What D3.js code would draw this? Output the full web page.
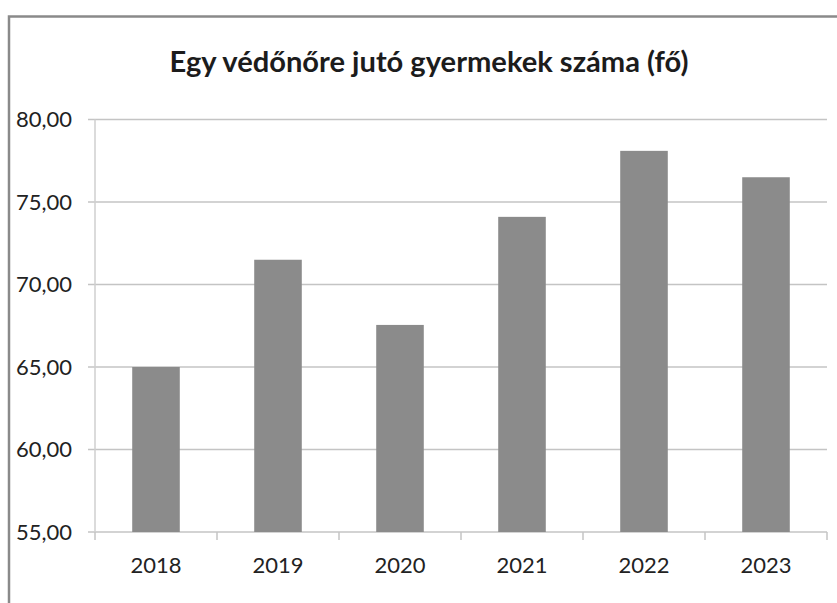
<!DOCTYPE html>
<html>
<head>
<meta charset="utf-8">
<script src="https://cdn.jsdelivr.net/npm/d3@7"></script>
<style>
  body { margin: 0; background: #fff; }
  text { font-family: Lato, "Open Sans", sans-serif; fill: #222; }
</style>
</head>
<body>
<svg class="chart"></svg>
<script>
var width = 837;
var height = 603;

var years = ["2018", "2019", "2020", "2021", "2022", "2023"];
var values = [65.0, 71.5, 67.55, 74.1, 78.1, 76.5];
var yTicks = [55, 60, 65, 70, 75, 80];
var title = "Egy védőnőre jutó gyermekek száma (fő)";

var plotLeft = 95, plotRight = 827, plotTop = 119.5, plotBottom = 532;

var x = d3.scaleBand()
          .domain(years)
          .range([plotLeft, plotRight]);

var y = d3.scaleLinear()
          .domain([55, 80])
          .range([plotBottom, plotTop]);

var chart = d3.select(".chart")
              .attr("width", width)
              .attr("height", height);

chart.append("rect")
     .attr("width", width)
     .attr("height", height)
     .attr("fill", "#fff");

// scanned frame (left + top edges only)
chart.append("path")
     .attr("d", "M9,603 V16.5 H837")
     .attr("fill", "none")
     .attr("stroke", "#8a8a8a")
     .attr("stroke-width", 2.5);

// gridlines
chart.append("g")
     .selectAll("line")
     .data(yTicks)
     .enter().append("line")
     .attr("x1", plotLeft - 7)
     .attr("x2", plotRight)
     .attr("y1", function(d) { return y(d); })
     .attr("y2", function(d) { return y(d); })
     .attr("stroke", "#c4c4c4")
     .attr("stroke-width", 1.5);

// y axis line
chart.append("line")
     .attr("x1", plotLeft).attr("x2", plotLeft)
     .attr("y1", plotTop).attr("y2", plotBottom)
     .attr("stroke", "#cfcfcf")
     .attr("stroke-width", 1.5);

// x axis ticks at category boundaries
var bounds = years.map(function(d) { return x(d); }).concat([plotRight]);
chart.append("g")
     .selectAll("line")
     .data(bounds)
     .enter().append("line")
     .attr("x1", function(d) { return d; })
     .attr("x2", function(d) { return d; })
     .attr("y1", plotBottom)
     .attr("y2", plotBottom + 8)
     .attr("stroke", "#c4c4c4")
     .attr("stroke-width", 1.5);

var barW = x.bandwidth() * 0.39;

chart.append("g")
     .selectAll("rect")
     .data(values)
     .enter().append("rect")
     .attr("x", function(d, i) { return x(years[i]) + (x.bandwidth() - barW) / 2; })
     .attr("y", function(d) { return y(d); })
     .attr("width", barW)
     .attr("height", function(d) { return plotBottom - y(d); })
     .attr("fill", "#8b8b8b");

// y labels
var fmt = function(d) { return d3.format(".2f")(d).replace(".", ","); };
chart.append("g")
     .selectAll("text")
     .data(yTicks)
     .enter().append("text")
     .attr("x", 72)
     .attr("y", function(d) { return y(d); })
     .attr("dy", "0.36em")
     .attr("text-anchor", "end")
     .style("font-size", "22px")
     .text(fmt);

// x labels
chart.append("g")
     .selectAll("text")
     .data(years)
     .enter().append("text")
     .attr("x", function(d) { return x(d) + x.bandwidth() / 2; })
     .attr("y", 573)
     .attr("text-anchor", "middle")
     .style("font-size", "22px")
     .text(function(d) { return d; });

// title, sized to the width it has in the scan
var t = chart.append("text")
     .attr("x", 429)
     .attr("y", 72)
     .attr("text-anchor", "middle")
     .style("font-weight", "bold")
     .style("font-size", "28px")
     .style("fill", "#1c1c1c")
     .text(title);
var tw = t.node().getComputedTextLength();
t.style("font-size", (28 * 519 / tw) + "px");
</script>
</body>
</html>
